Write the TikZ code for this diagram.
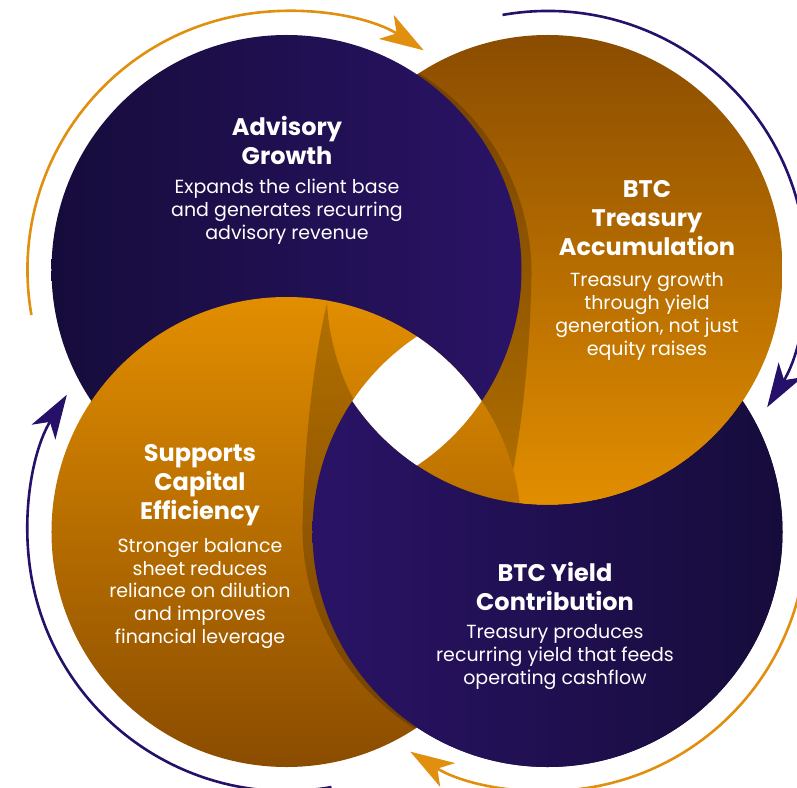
\documentclass[tikz,border=0pt]{standalone}
\usepackage{fontspec}
\setmainfont{Poppins}
\usetikzlibrary{arrows.meta}
\definecolor{navyd}{HTML}{160C3B}
\definecolor{navyl}{HTML}{2A1366}
\definecolor{ambd}{HTML}{8A4C00}
\definecolor{ambl}{HTML}{E28E00}
\definecolor{arrowo}{HTML}{E0900E}
\definecolor{arrown}{HTML}{25106A}

\begin{document}
\begin{tikzpicture}
    [
    x=1pt,y=1pt,
    navyltr/.style={left color=navyd,right color=navyl},
    navyrtl/.style={left color=navyl,right color=navyd},
    ambtop/.style={top color=ambd,bottom color=ambl},
    ambbot/.style={top color=ambl,bottom color=ambd},
    cast/.style={fill=black,fill opacity=0.2},
    castpath/.style={insert path={(-90,98) .. controls (-99,61) and (-112,-19) .. (-114.2,-114.7)
        arc[start angle=177,end angle=240,radius=235] -- (53,-199) -- (-62,-1)
        .. controls (-77,26) and (-88,61) .. cycle}},
    cycarrow/.style={line width=2.6pt,-{Stealth[length=44pt,width=28pt,inset=12pt]}},
    headtext/.style={text=white,align=center,font=\bfseries\fontsize{24}{29}\selectfont},
    bodytext/.style={text=white,align=center,font=\fontsize{19}{22.8}\selectfont},
    ]
    \useasboundingbox (-417,-386) rectangle (380,401);
    \coordinate (tl) at (-130.5,131);
    \coordinate (tr) at (130.5,131);
    \coordinate (br) at (130.5,-131);
    \coordinate (bl) at (-130.5,-131);

    \path [navyrtl] (br) circle (235);
    \path [ambtop] (tr) circle (235);
    \begin{scope}
      \clip (tr) circle (235);
      \path [cast,rotate=180,castpath];
    \end{scope}
    \path [navyltr] (tl) circle (235);
    \path [ambbot] (bl) circle (235);
    \begin{scope}
      \clip (bl) circle (235);
      \path [cast,castpath];
    \end{scope}
    \begin{scope}[even odd rule]
      \clip (-600,-600) -- (-600,600) -- (600,600) -- (600,-600) -- cycle (tr) circle (235);
      \path [navyrtl] (br) circle (235);
    \end{scope}
    \begin{scope}
      \clip (tl) circle (235);
      \clip (tr) circle (235);
      \clip (br) circle (235);
      \fill [white] (bl) circle (235);
    \end{scope}

    \draw [cycarrow,arrowo] (tl) ++(190:259) arc[start angle=190,end angle=58,radius=259];
    \draw [cycarrow,arrown] (tr) ++(100:259) arc[start angle=100,end angle=-32,radius=259];
    \draw [cycarrow,arrowo] (br) ++(10:259) arc[start angle=10,end angle=-122,radius=259];
    \draw [cycarrow,arrown] (bl) ++(-80:259) arc[start angle=-80,end angle=-212,radius=259];

    \node (advhead) [headtext] at (-130,260.5) {Advisory\\Growth};
    \node (advbody) [bodytext] at (-130,189) {Expands the client base\\and generates recurring\\advisory revenue};
    \node (treahead) [headtext] at (230,183) {BTC\\Treasury\\Accumulation};
    \node (treabody) [bodytext] at (230,84.5) {Treasury growth\\through yield\\generation, not just\\equity raises};
    \node (yieldhead) [headtext] at (138,-185) {BTC Yield\\Contribution};
    \node (yieldbody) [bodytext] at (138,-256) {Treasury produces\\recurring yield that feeds\\operating cashflow};
    \node (caphead) [headtext] at (-217,-84) {Supports\\Capital\\Efficiency};
    \node (capbody) [bodytext] at (-217,-192.5) {Stronger balance\\sheet reduces\\reliance on dilution\\and improves\\financial leverage};
  \end{tikzpicture}
\end{document}
